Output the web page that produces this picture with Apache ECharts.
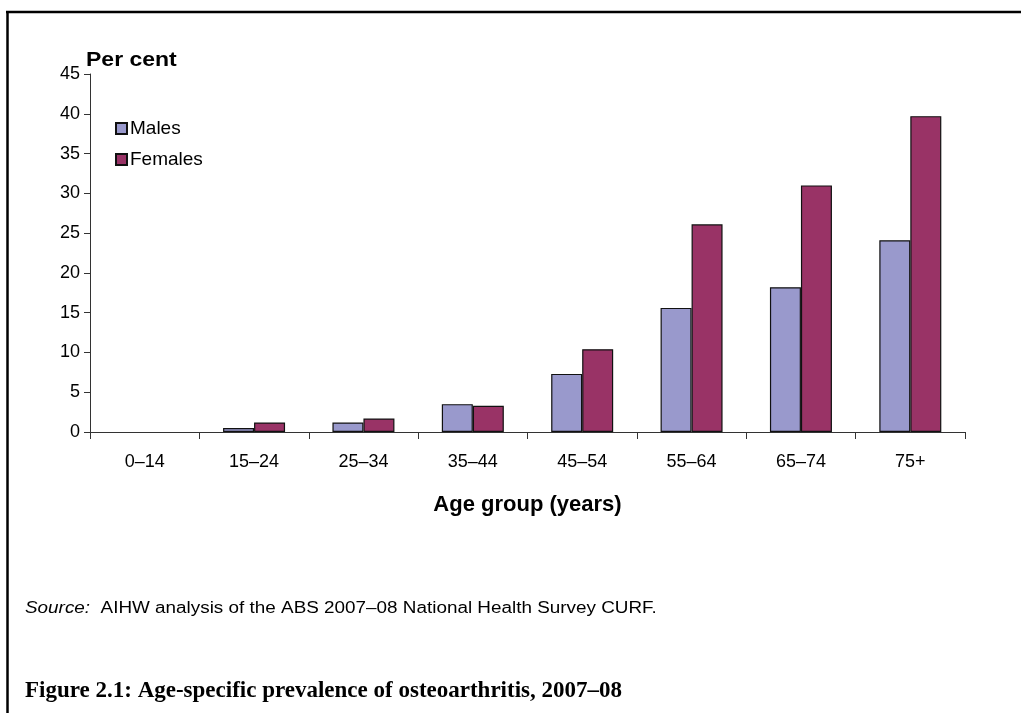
<!DOCTYPE html>
<html>
<head>
<meta charset="utf-8">
<script src="https://cdn.jsdelivr.net/npm/echarts@6/dist/echarts.min.js"></script>
<style>
  html, body { margin: 0; padding: 0; background: #fff; }
  #chart { width: 1021px; height: 713px; }
</style>
</head>
<body>
<div id="chart"></div>
<script>
// Age groups (years)
var ageGroups = ['0\u201314', '15\u201324', '25\u201334', '35\u201344', '45\u201354', '55\u201364', '65\u201374', '75+'];
// Prevalence of osteoarthritis, per cent
var males   = [0, 0.5, 1.2, 3.5, 7.3, 15.6, 18.2, 24.1];
var females = [0, 1.2, 1.7, 3.3, 10.4, 26.1, 31.0, 39.7];
// Y-axis ticks
var yMin = 0, yMax = 45, yStep = 5;

var sans = '"Liberation Sans", Arial, sans-serif';
var serif = '"Liberation Serif", "DejaVu Serif", serif';

// zero-height bars get no outline
function barData(values) {
  return values.map(function (v) {
    return v === 0 ? { value: v, itemStyle: { borderWidth: 0 } } : v;
  });
}

var chart = echarts.init(document.getElementById('chart'), null, { renderer: 'canvas' });

chart.setOption({
  backgroundColor: '#ffffff',
  animation: false,
  grid: { left: 90, right: 56, top: 74, bottom: 281, containLabel: false },
  legend: {
    orient: 'vertical',
    left: 110,
    top: 114,
    itemWidth: 11,
    itemHeight: 11,
    itemGap: 12,
    icon: 'rect',
    textStyle: { fontFamily: sans, fontSize: 19, color: '#000', padding: [0, 0, 0, -2] },
    data: ['Males', 'Females']
  },
  xAxis: {
    type: 'category',
    data: ageGroups,
    boundaryGap: true,
    name: 'Age group (years)',
    nameLocation: 'middle',
    nameGap: 62,
    nameTextStyle: { fontFamily: sans, fontSize: 22, fontWeight: 'bold', color: '#000' },
    axisLine: { lineStyle: { color: '#333', width: 1 } },
    axisTick: { show: true, alignWithLabel: false, length: 7, lineStyle: { color: '#333' } },
    axisLabel: { fontFamily: sans, fontSize: 18, color: '#000', margin: 21 },
    splitLine: { show: false }
  },
  yAxis: {
    type: 'value',
    min: yMin,
    max: yMax,
    interval: yStep,
    axisLine: { show: true, lineStyle: { color: '#333', width: 1 } },
    axisTick: { show: true, length: 6, inside: false, lineStyle: { color: '#333' } },
    axisLabel: { fontFamily: sans, fontSize: 18, color: '#000', margin: 10 },
    splitLine: { show: false }
  },
  series: [
    {
      name: 'Males',
      type: 'bar',
      data: barData(males),
      barWidth: 31,
      barGap: '0%',
      itemStyle: { color: '#9999cc', borderColor: '#111', borderWidth: 1.2 }
    },
    {
      name: 'Females',
      type: 'bar',
      data: barData(females),
      barWidth: 31,
      barGap: '0%',
      itemStyle: { color: '#993366', borderColor: '#111', borderWidth: 1.2 }
    }
  ],
  graphic: [
    // frame: top and left rules
    { type: 'line', shape: { x1: 6, y1: 12, x2: 1021, y2: 12 }, style: { stroke: '#000', lineWidth: 2.5 } },
    { type: 'line', shape: { x1: 7.5, y1: 11, x2: 7.5, y2: 713 }, style: { stroke: '#000', lineWidth: 2.5 } },
    {
      type: 'text', x: 86, y: 60, scaleX: 1.15,
      style: { text: 'Per cent', fontFamily: sans, fontSize: 20, fontWeight: 'bold', fill: '#000', verticalAlign: 'middle' }
    },
    {
      type: 'text', x: 25, y: 609, scaleX: 1.18,
      style: {
        text: '{i|Source:}  AIHW analysis of the ABS 2007\u201308 National Health Survey CURF.',
        fontFamily: sans, fontSize: 16, fill: '#000', verticalAlign: 'middle',
        rich: { i: { fontFamily: sans, fontSize: 16, fontStyle: 'italic', fill: '#000' } }
      }
    },
    {
      type: 'text', x: 25, y: 691,
      style: {
        text: 'Figure 2.1: Age-specific prevalence of osteoarthritis, 2007\u201308',
        fontFamily: serif, fontSize: 23, fontWeight: 'bold', fill: '#000', verticalAlign: 'middle'
      }
    }
  ]
});
</script>
</body>
</html>
